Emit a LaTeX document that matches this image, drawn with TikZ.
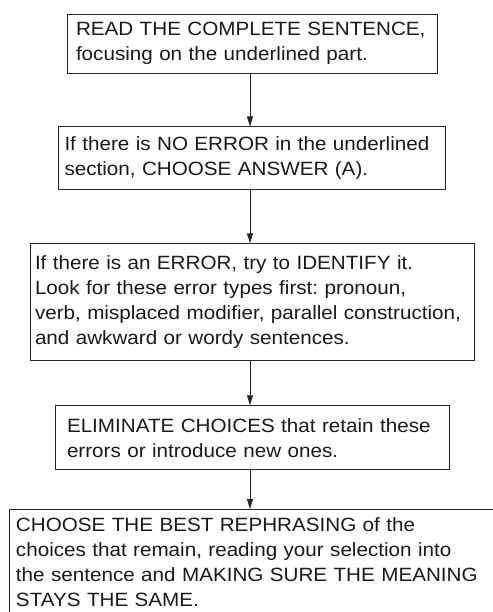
\documentclass[tikz,border=0pt]{standalone}
\usepackage{fontspec}
\setmainfont[FakeStretch=1.075]{Liberation Sans}
\usepackage{tikz}
\usetikzlibrary{arrows.meta,positioning}
\frenchspacing

\begin{document}
\begin{tikzpicture}[
    box/.style={rectangle, draw=black!85, line width=0.9pt, align=left, font=\fontsize{19.2}{25}\selectfont, text=black!90, inner ysep=0pt},
    arrow/.style={-{Triangle[length=10pt,width=6pt]}, line width=0.8pt, draw=black!85}
]
    \useasboundingbox (0,0) rectangle (492pt,-612pt);
    \node[box, inner xsep=9pt, text width=352pt, minimum height=59pt] (read) at (252pt,-43.5pt)
        {READ THE COMPLETE SENTENCE,\\focusing on the underlined part.};
    \node[box, inner xsep=6pt, text width=375pt, minimum height=63pt, below=53pt of read] (noerror)
        {If there is NO ERROR in the underlined\\section, CHOOSE ANSWER (A).};
    \node[box, inner xsep=5pt, text width=434pt, minimum height=117pt, below=53pt of noerror] (identify)
        {If there is an ERROR, try to IDENTIFY it.\\Look for these error types first: pronoun,\\verb, misplaced modifier, parallel construction,\\and awkward or wordy sentences.};
    \node[box, inner xsep=12pt, text width=370pt, minimum height=64pt, below=44pt of identify] (eliminate)
        {ELIMINATE CHOICES that retain these\\errors or introduce new ones.};
    \node[box, inner xsep=7pt, text width=472pt, minimum height=106pt, below=39pt of eliminate] (choose)
        {CHOOSE THE BEST REPHRASING of the\\choices that remain, reading your selection into\\the sentence and MAKING SURE THE MEANING\\STAYS THE SAME.};

    \draw[arrow] ([xshift=-2pt]read.south) -- ([xshift=-2pt]read.south |- noerror.north);
    \draw[arrow] ([xshift=-2pt]noerror.south) -- ([xshift=-2pt]noerror.south |- identify.north);
    \draw[arrow] ([xshift=-2pt]identify.south) -- ([xshift=-2pt]identify.south |- eliminate.north);
    \draw[arrow] ([xshift=-2pt]eliminate.south) -- ([xshift=-2pt]eliminate.south |- choose.north);
\end{tikzpicture}
\end{document}
